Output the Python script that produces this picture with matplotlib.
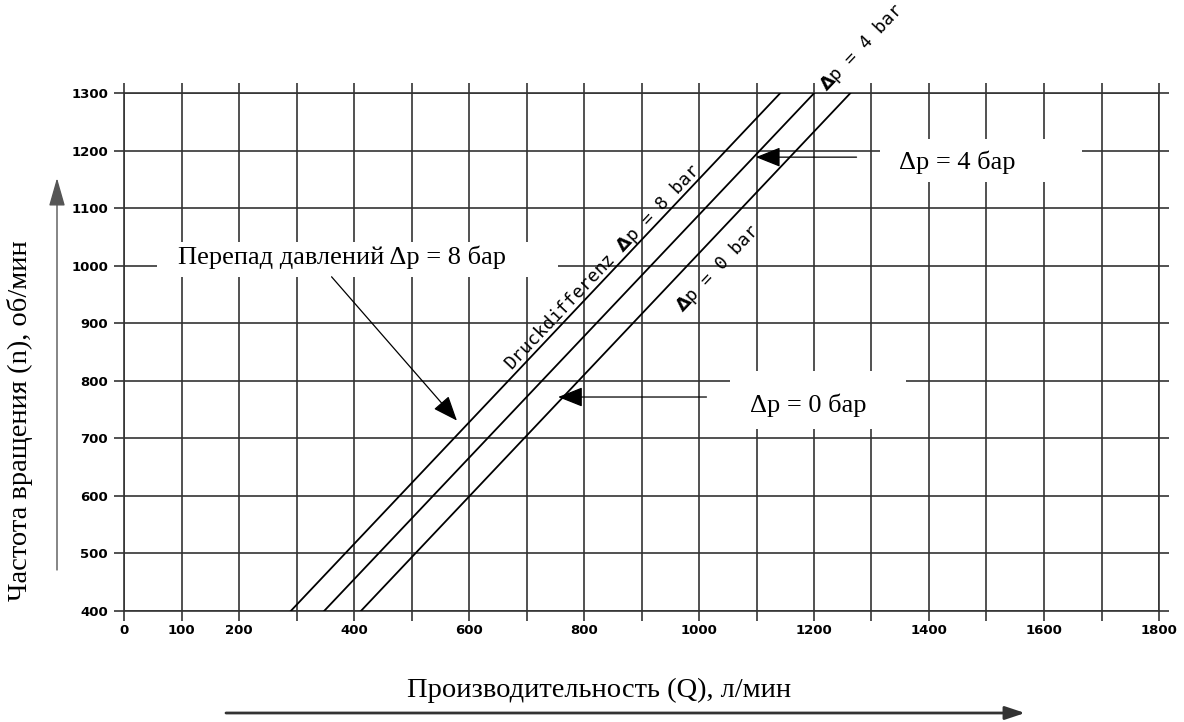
import numpy as np
import matplotlib
matplotlib.use('Agg')
import matplotlib.pyplot as plt
from matplotlib.patches import Rectangle, FancyArrowPatch

# flow Q (l/min) at n = 400 and n = 1300 rpm, one line per pressure difference
n_ends = [400, 1300]
q_8bar = [290, 1141]
q_4bar = [348, 1200]
q_0bar = [412, 1263]

x_ticks = list(range(0, 1801, 100))
x_shown = [0, 100, 200, 400, 600, 800, 1000, 1200, 1400, 1600, 1800]
x_labels = [str(q) if q in x_shown else '' for q in x_ticks]
y_ticks = list(range(400, 1301, 100))

W, H = 1184, 722
def fx(px):
    return px / W
def fy(py):
    return 1 - py / H

serif = ['Liberation Serif', 'DejaVu Serif']
gc = '#333333'
lw = 1.2

fig = plt.figure(figsize=(W / 100, H / 100), dpi=100)
ax = fig.add_axes([fx(124), fy(611), 1035 / W, 517.7 / H])
ax.set_xlim(0, 1800)
ax.set_ylim(400, 1300)
ax.set_xticks(x_ticks)
ax.set_xticklabels(x_labels)
ax.set_yticks(y_ticks)
ax.grid(True, color=gc, lw=lw)
ax.set_axisbelow(True)
ax.tick_params(direction='out', length=7.5, width=lw, color=gc,
               top=True, right=True, labelsize=9.5)
ax.tick_params(axis='x', pad=2)
ax.tick_params(axis='y', pad=4)
for lbl in ax.get_xticklabels() + ax.get_yticklabels():
    lbl.set_fontweight('bold')
for s in ax.spines.values():
    s.set_color(gc)
    s.set_linewidth(lw)

for q in (q_8bar, q_4bar, q_0bar):
    ax.plot(q, n_ends, color='black', lw=1.3, zorder=3)

ang = np.degrees(np.arctan2(n_ends[1] - n_ends[0], q_8bar[1] - q_8bar[0]))
rot = dict(rotation=ang, transform_rotates_text=True, rotation_mode='anchor',
           ha='left', va='baseline', fontsize=13, family='DejaVu Sans Mono',
           zorder=4, clip_on=False)
ax.text(675, 817, r'Druckdifferenz $\mathbf{\Delta}$p = 8 bar', **rot)
ax.text(972, 918, r'$\mathbf{\Delta}$p = 0 bar', **rot)
ax.text(1222, 1303, r'$\mathbf{\Delta}$p = 4 bar', **rot)

# white label boxes over the grid
for x0, x1, y0, y1 in [(57, 755, 981, 1041), (1054, 1360, 717, 817), (1315, 1666, 1145, 1220)]:
    ax.add_patch(Rectangle((x0, y0), x1 - x0, y1 - y0, facecolor='white',
                           edgecolor='none', zorder=1))

box_txt = dict(ha='center', va='center', family=serif, fontsize=19, zorder=5)
ax.text(380, 1015, 'Перепад давлений Δp = 8 бар', **box_txt)
ax.text(1190, 757, 'Δp = 0 бар', **box_txt)
ax.text(1450, 1180, 'Δp = 4 бар', **box_txt)

arr = dict(arrowstyle='-|>,head_length=0.55,head_width=0.22', color='black',
           lw=0.9, mutation_scale=28, shrinkA=0, shrinkB=0)
ax.annotate('', xy=(579, 731), xytext=(361, 981), arrowprops=arr, zorder=5)
ax.annotate('', xy=(755, 772), xytext=(1013, 772), arrowprops=arr, zorder=5)
ax.annotate('', xy=(1099, 1189), xytext=(1274, 1189), arrowprops=arr, zorder=5)

fig.text(fx(20), fy(421), 'Частота вращения (n), об/мин', rotation=90,
         ha='center', va='center', family=serif, fontsize=20.5)
fig.text(fx(599), fy(690), 'Производительность (Q), л/мин',
         ha='center', va='center', family=serif, fontsize=20.5)

fig.add_artist(FancyArrowPatch(
    (fx(57), fy(570)), (fx(57), fy(178)), transform=fig.transFigure,
    arrowstyle='-|>,head_length=0.7,head_width=0.2', color='#555555', lw=1,
    mutation_scale=25, shrinkA=0, shrinkB=0))
fig.add_artist(FancyArrowPatch(
    (fx(226), fy(713)), (fx(1025), fy(713)), transform=fig.transFigure,
    arrowstyle='-|>,head_length=0.6,head_width=0.2', color='#333333', lw=2,
    mutation_scale=20, shrinkA=0, shrinkB=0))

fig.savefig('out.png', dpi=100)
